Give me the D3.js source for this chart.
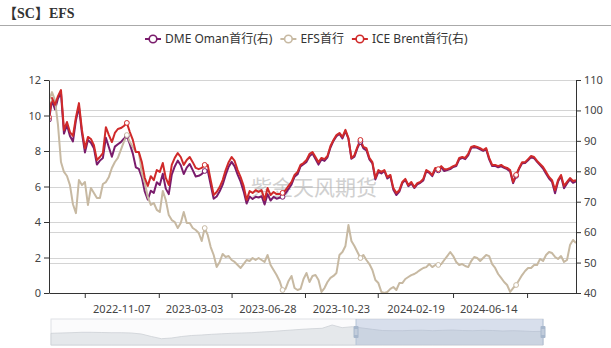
<!DOCTYPE html>
<html><head><meta charset="utf-8">
<script src="https://cdn.jsdelivr.net/npm/d3@7"></script>
<style>
body{margin:0;background:#fff;}
svg text{font-family:"Noto Sans","Noto Sans CJK SC",sans-serif;}
</style>
</head><body>
<svg id="c" width="611" height="348"></svg>
<script>
const title = "【SC】EFS";
const seriesNames = ["DME Oman首行(右)", "EFS首行", "ICE Brent首行(右)"];
const seriesColors = ["#7a1c6c", "#c7b9a2", "#d02a2a"];
const startDate = "2022-07-14", endDate = "2024-10-31";
const tickDates = ["2022-09-09","2023-01-05","2023-05-01","2023-08-26","2023-12-20","2024-04-18","2024-08-14"];
const labelDates = ["2022-11-07","2023-03-03","2023-06-28","2023-10-23","2024-02-19","2024-06-14"];
const leftTicks = [0,2,4,6,8,10,12];
const rightTicks = [40,50,60,70,80,90,100,110];
const watermark = "紫金天风期货";

const brent = [97.8,104.1,101.8,104.7,106.7,93.6,96.2,92.9,91.6,97.8,
102.4,93.6,87.6,91.3,90.6,88.6,83.7,84.7,86.0,94.5,
91.9,89.6,92.6,93.9,94.2,94.9,95.9,92.9,90.3,86.3,
86.3,83.0,77.8,75.2,78.4,77.1,80.4,79.8,82.7,77.8,
75.5,82.1,84.4,86.0,84.7,82.1,83.7,84.7,83.0,81.1,
80.7,81.1,82.1,82.1,77.1,72.2,73.2,74.8,77.1,80.4,
83.0,84.7,83.4,80.4,78.1,75.2,70.6,73.5,72.9,73.8,
73.2,73.8,70.6,74.5,72.2,73.2,72.5,72.5,72.9,73.8,
75.2,76.5,78.8,79.8,82.1,82.7,83.7,85.7,86.3,84.7,
83.0,84.4,84.0,85.0,88.3,90.3,91.9,92.6,91.3,93.6,
90.9,84.4,85.3,88.0,90.3,88.0,87.6,84.4,83.0,77.8,
80.4,79.8,80.4,78.1,78.8,74.5,72.9,73.8,76.5,77.5,
75.5,76.5,74.8,76.1,76.5,77.5,80.4,79.8,78.8,81.1,
80.7,81.7,80.7,80.7,81.1,81.7,82.1,84.4,84.7,84.4,
85.7,88.0,88.3,88.0,87.6,87.0,87.6,84.4,82.1,82.1,
81.7,82.1,81.4,81.1,80.4,76.5,78.8,81.1,83.0,83.0,
84.0,85.0,84.7,83.4,82.4,81.4,79.8,78.1,77.1,73.8,
77.1,78.8,75.2,76.5,77.8,76.8,77.1];

const oman = [97.0,103.3,100.3,103.9,105.7,92.4,95.2,91.6,89.8,96.8,
101.2,92.6,86.2,90.3,89.4,87.6,82.2,83.5,84.4,91.0,
87.9,84.8,88.1,88.9,89.6,90.7,91.6,88.9,85.8,81.3,
80.8,78.0,73.3,70.7,73.6,72.9,76.4,75.5,79.2,74.3,
72.5,78.9,81.6,83.5,82.0,79.1,81.2,82.4,80.4,78.3,
78.5,79.1,80.1,80.3,75.6,71.0,71.7,73.4,75.6,78.8,
81.5,83.1,81.6,78.9,76.6,73.4,69.4,71.7,70.9,71.6,
71.4,71.8,69.1,72.5,70.4,71.6,71.0,71.3,71.6,72.8,
74.2,75.7,78.2,79.0,81.6,82.3,83.1,84.9,85.8,84.0,
82.2,83.9,83.4,84.6,87.8,90.0,91.5,92.3,90.8,93.2,
90.7,84.1,84.8,87.6,89.7,87.5,86.9,83.9,82.6,77.3,
79.8,79.3,80.1,77.6,78.4,73.9,72.2,73.3,76.1,77.2,
75.1,76.0,74.5,75.7,76.2,77.0,80.0,79.5,78.4,80.5,
80.3,81.2,80.1,80.4,80.7,81.4,81.7,83.9,84.4,84.0,
85.2,87.7,87.9,87.7,87.2,86.7,87.2,83.9,81.7,81.8,
81.3,81.6,81.1,80.7,79.9,76.1,78.5,80.8,82.6,82.7,
83.6,84.7,84.3,83.1,82.0,80.9,79.2,77.6,76.5,72.8,
76.6,78.4,74.4,76.0,77.3,76.2,76.7];

const efs = [10.87,11.32,10.87,9.47,7.38,6.82,6.59,6.08,5.00,4.50,
6.37,6.08,6.25,4.96,5.92,5.63,5.35,5.35,6.14,6.25,
6.54,7.04,7.38,7.61,8.06,8.51,8.90,8.51,8.23,7.94,
7.94,6.76,6.20,5.41,4.96,5.07,4.68,4.56,5.75,5.24,
4.39,4.11,4.00,3.66,3.94,4.56,3.94,3.94,3.66,3.55,
3.38,2.93,3.66,3.27,2.59,2.14,1.46,1.75,2.20,2.03,
2.08,1.86,1.75,1.58,1.41,1.63,1.86,1.80,1.97,1.86,
1.97,1.86,1.75,2.14,1.58,1.30,1.01,0.68,0.17,0.23,
0.68,0.96,0.28,0.17,0.23,0.79,1.13,0.62,0.96,1.01,
0.73,0.06,0.28,0.62,0.85,0.96,1.13,2.14,2.31,2.65,
3.83,2.93,2.65,2.31,1.97,2.14,1.86,1.63,1.30,0.73,
0.56,0.06,0.00,0.06,0.23,0.34,0.17,0.56,0.56,0.79,
0.90,1.01,1.07,1.18,1.30,1.41,1.46,1.63,1.46,1.58,
1.58,1.63,1.86,2.08,2.31,2.08,1.75,1.58,1.63,1.52,
1.46,1.80,2.03,1.97,1.80,1.97,2.14,2.08,1.63,1.41,
1.07,0.85,0.62,0.45,0.06,0.28,0.45,0.73,1.01,1.24,
1.41,1.41,1.58,1.58,1.92,1.80,2.14,2.31,2.25,2.03,
1.92,2.08,1.75,1.86,2.70,2.99,2.82];

// full-history shadow shown in the zoom slider
const shadow = [64.0,65.4,66.8,68.6,68.6,67.7,66.8,66.8,65.4,60.8,
49.2,39.1,42.3,49.2,53.8,56.2,59.4,61.7,64.0,65.4,
66.8,70.0,72.3,76.0,79.2,82.5,85.2,87.1,102.3,90.0,
94.5,88.5,82.5,76.9,76.0,76.0,77.8,78.3,76.0,77.8,
79.2,76.9,76.0,77.8,76.9,74.6,76.0,74.6,72.3,73.2];
const zoomStart = 62, zoomEnd = 100;
const markerEvery = 26;

const svg = d3.select("#c");
const W = 611, H = 348;
const M = {l:49, r:576, t:80, b:293};
const parse = d3.utcParse("%Y-%m-%d");
const t0 = parse(startDate), t1 = parse(endDate);
const N = brent.length;
const dates = d3.range(N).map(i => new Date(+t0 + (t1 - t0) * i / (N - 1)));

const x = d3.scaleUtc().domain([t0, t1]).range([M.l, M.r]);
const yL = d3.scaleLinear().domain([0, 12]).range([M.b, M.t]);
const yR = d3.scaleLinear().domain([40, 110]).range([M.b, M.t]);

svg.append("rect").attr("width", W).attr("height", H).attr("fill", "#fff");

// title
svg.append("text").attr("x", 3).attr("y", 18)
  .style("font-family", "'Liberation Serif','DejaVu Serif','Noto Sans CJK SC',serif")
  .style("font-weight", "bold").style("font-size", "14px").attr("fill", "#333").text(title);
svg.append("line").attr("x1", 0).attr("x2", W).attr("y1", 25.5).attr("y2", 25.5)
  .attr("stroke", "#aaa").attr("stroke-width", 1);

// legend
const leg = svg.append("g");
let lx = 145;
seriesNames.forEach((name, k) => {
  const g = leg.append("g").attr("transform", `translate(${lx},39)`);
  g.append("line").attr("x1", 0).attr("x2", 16).attr("stroke", seriesColors[k]).attr("stroke-width", 2);
  g.append("circle").attr("cx", 8).attr("r", 3.8).attr("fill", "#fff").attr("stroke", seriesColors[k]).attr("stroke-width", 1.6);
  const t = g.append("text").attr("x", 20).attr("dy", "0.35em").style("font-size", "12px").attr("fill", "#333").text(name);
  lx += 20 + t.node().getComputedTextLength() + 8;
});

// grid lines
const grid = svg.append("g");
leftTicks.filter(v => v > 0).forEach(v => grid.append("line").attr("x1", M.l).attr("x2", M.r)
  .attr("y1", Math.round(yL(v)) + 0.5).attr("y2", Math.round(yL(v)) + 0.5).attr("stroke", "#d4d4d4"));
rightTicks.filter(v => v > 40).forEach(v => grid.append("line").attr("x1", M.l).attr("x2", M.r)
  .attr("y1", Math.round(yR(v)) + 0.5).attr("y2", Math.round(yR(v)) + 0.5).attr("stroke", "#d4d4d4"));

// watermark
svg.append("text").attr("x", 314).attr("y", 195).attr("text-anchor", "middle")
  .style("font-size", "21px").attr("fill", "#aaa").attr("opacity", 0.55).text(watermark);

// lines
svg.append("clipPath").attr("id", "clip").append("rect")
  .attr("x", M.l).attr("y", M.t - 20).attr("width", M.r - M.l).attr("height", M.b - M.t + 22);
const plot = svg.append("g").attr("clip-path", "url(#clip)");
const series = [
  {data: oman, y: yR, color: seriesColors[0]},
  {data: efs, y: yL, color: seriesColors[1]},
  {data: brent, y: yR, color: seriesColors[2]}
];
series.forEach(s => {
  const line = d3.line().x((d, i) => x(dates[i])).y(d => s.y(d));
  plot.append("path").datum(s.data).attr("d", line).attr("fill", "none")
    .attr("stroke", s.color).attr("stroke-width", 2).attr("stroke-linejoin", "round");
});
series.forEach(s => {
  plot.selectAll(null).data(s.data.map((d, i) => [d, i]).filter(p => p[1] % markerEvery === 0))
    .enter().append("circle")
    .attr("cx", p => x(dates[p[1]])).attr("cy", p => s.y(p[0])).attr("r", 2.4)
    .attr("fill", "#fff").attr("stroke", s.color).attr("stroke-width", 1);
});

// axes
function styleAxis(g) {
  g.selectAll(".domain").attr("stroke", "#333");
  g.selectAll(".tick line").attr("stroke", "#333");
  g.selectAll(".tick text").attr("fill", "#444").style("font-size", "11px")
    .style("font-family", "'Noto Sans',sans-serif");
}
svg.append("g").attr("transform", `translate(${M.l},0)`)
  .call(d3.axisLeft(yL).tickValues(leftTicks).tickSize(5).tickSizeOuter(0).tickPadding(3))
  .call(styleAxis);
svg.append("g").attr("transform", `translate(${M.r},0)`)
  .call(d3.axisRight(yR).tickValues(rightTicks).tickSize(5).tickSizeOuter(0).tickPadding(3))
  .call(styleAxis);
svg.append("g").attr("transform", `translate(0,${M.b})`)
  .call(d3.axisBottom(x).tickValues(tickDates.map(parse)).tickFormat("").tickSize(5).tickSizeOuter(0))
  .call(styleAxis);
svg.append("g").selectAll("text").data(labelDates).enter().append("text")
  .attr("x", d => x(parse(d))).attr("y", 313).attr("text-anchor", "middle")
  .style("font-size", "11px").attr("fill", "#444").text(d => d);

// data zoom slider
const Z = {l:51, r:543, t:319, b:345};
const sx = d3.scaleLinear().domain([0, shadow.length - 1]).range([Z.l, Z.r]);
const sy = d3.scaleLinear().domain([10, 130]).range([Z.b, Z.t]);
const zp = d3.scaleLinear().domain([0, 100]).range([Z.l, Z.r]);
svg.append("rect").attr("x", Z.l).attr("y", Z.t).attr("width", Z.r - Z.l).attr("height", Z.b - Z.t)
  .attr("fill", "#fbfbfc").attr("stroke", "#dfe2e6");
svg.append("path").datum(shadow)
  .attr("d", d3.area().x((d, i) => sx(i)).y0(Z.b).y1(d => sy(d)))
  .attr("fill", "#e5e8eb").attr("stroke", "#cdd1d6").attr("stroke-width", 0.8);
svg.append("rect").attr("x", zp(zoomStart)).attr("y", Z.t).attr("width", zp(zoomEnd) - zp(zoomStart))
  .attr("height", Z.b - Z.t).attr("fill", "rgba(160,180,210,0.38)");
[zoomStart, zoomEnd].forEach(p => {
  const hx = zp(p);
  svg.append("line").attr("x1", hx).attr("x2", hx).attr("y1", Z.t).attr("y2", Z.b)
    .attr("stroke", "#b5c3d6").attr("stroke-width", 1);
  svg.append("rect").attr("x", hx - 2.5).attr("y", 326).attr("width", 5).attr("height", 12).attr("rx", 1)
    .attr("fill", "#a7b7cc");
  [330, 332, 334].forEach(yy => svg.append("line").attr("x1", hx - 1.5).attr("x2", hx + 1.5)
    .attr("y1", yy).attr("y2", yy).attr("stroke", "#fff").attr("stroke-width", 0.6));
});
</script>
</body></html>
